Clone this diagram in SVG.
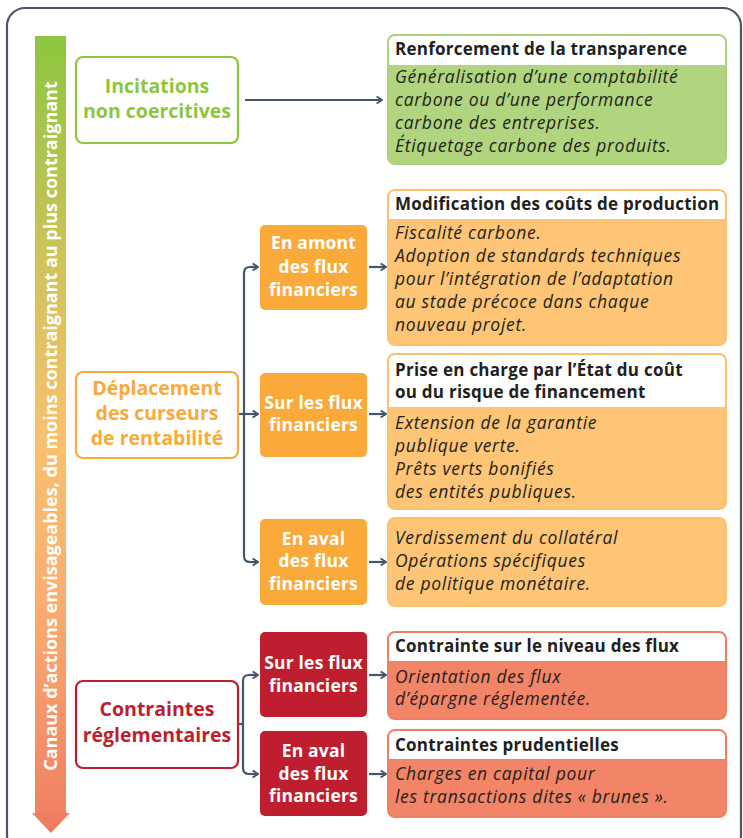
<svg xmlns="http://www.w3.org/2000/svg" width="743" height="838" viewBox="0 0 743 838">
<style>
.frame{fill:none;stroke:#4a5568;stroke-width:2.2}
.conn{fill:none;stroke:#46556b;stroke-width:2.2}
.big{font-family:"Open Sans","Noto Sans",sans-serif;font-weight:700;font-size:19.5px;text-anchor:middle}
.small{font-family:"Open Sans","Noto Sans",sans-serif;font-weight:700;font-size:17.5px;letter-spacing:0.2px;text-anchor:middle;fill:#fff}
.hdr{font-family:"Open Sans","Noto Sans",sans-serif;font-weight:700;font-size:17px;letter-spacing:0.25px;fill:#231f20}
.body{font-family:"Open Sans","Noto Sans",sans-serif;font-style:italic;font-size:17.5px;letter-spacing:0.7px;fill:#231f20}
.vert{font-family:"Open Sans","Noto Sans",sans-serif;font-weight:700;font-size:18px;fill:#fff;text-anchor:middle}
</style>
<defs>
<linearGradient id="grad" x1="0" y1="36" x2="0" y2="832" gradientUnits="userSpaceOnUse">
<stop offset="0" stop-color="#8cc63f"/>
<stop offset="0.3" stop-color="#d2c35c"/>
<stop offset="0.5" stop-color="#f8c16c"/>
<stop offset="0.7" stop-color="#fcae70"/>
<stop offset="1" stop-color="#f07d62"/>
</linearGradient>
<marker id="arr" viewBox="0 0 10 10" refX="9" refY="5" markerWidth="9" markerHeight="9" markerUnits="userSpaceOnUse" orient="auto">
<path d="M3,1 L9,5 L3,9" fill="none" stroke="#46556b" stroke-width="2"/>
</marker>
</defs>
<rect class="frame" x="7" y="8" width="734" height="845" rx="18"/>
<g id="axis">
<rect x="35" y="36" width="31" height="778" fill="url(#grad)"/>
<polygon points="32,813 70,813 51,833" fill="#f07d62"/>
<text class="vert" transform="translate(57,426) rotate(-90)">Canaux d’actions envisageables, du moins contraignant au plus contraignant</text>
</g>
<g id="connectors">
<line class="conn" x1="245" y1="100" x2="382" y2="100" marker-end="url(#arr)"/>
<path class="conn" d="M238,414 H244"/>
<path class="conn" d="M257,267 H250 Q244,267 244,273 V556 Q244,562 250,562 H258"/>
<path class="conn" d="M250,562 H258" marker-end="url(#arr)"/>
<path class="conn" d="M244,414 H258" marker-end="url(#arr)"/>
<path class="conn" d="M250,267 H258" marker-end="url(#arr)"/>
<line class="conn" x1="369" y1="267" x2="386" y2="267" marker-end="url(#arr)"/>
<line class="conn" x1="369" y1="414" x2="386" y2="414" marker-end="url(#arr)"/>
<line class="conn" x1="369" y1="562" x2="386" y2="562" marker-end="url(#arr)"/>
<path class="conn" d="M238,724 H243"/>
<path class="conn" d="M258,675 H249 Q243,675 243,681 V768 Q243,774 249,774 H258"/>
<path class="conn" d="M249,675 H258" marker-end="url(#arr)"/>
<path class="conn" d="M249,774 H258" marker-end="url(#arr)"/>
<line class="conn" x1="369" y1="675" x2="386" y2="675" marker-end="url(#arr)"/>
<line class="conn" x1="369" y1="774" x2="386" y2="774" marker-end="url(#arr)"/>
</g>
<g id="incitations">
<rect x="76" y="57" width="162" height="86" rx="7" fill="#fff" stroke="#8cc63f" stroke-width="2.2"/>
<text class="big" fill="#8cc63f"><tspan x="157" y="93">Incitations</tspan><tspan x="157" y="118">non coercitives</tspan></text>
</g>
<g id="deplacement">
<rect x="76" y="372" width="162" height="86" rx="7" fill="#fff" stroke="#f9aa3b" stroke-width="2.2"/>
<text class="big" fill="#f9aa3b"><tspan x="157" y="395">Déplacement</tspan><tspan x="157" y="420">des curseurs</tspan><tspan x="157" y="445">de rentabilité</tspan></text>
</g>
<g id="contraintes">
<rect x="76" y="681" width="162" height="87" rx="7" fill="#fff" stroke="#be1e2d" stroke-width="2.2"/>
<text class="big" fill="#be1e2d"><tspan x="157" y="716">Contraintes</tspan><tspan x="157" y="742">réglementaires</tspan></text>
</g>
<g id="amont">
<rect x="260" y="225" width="107" height="85" rx="5" fill="#f9aa3b"/>
<text class="small"><tspan x="313.5" y="249">En amont</tspan><tspan x="313.5" y="273">des flux</tspan><tspan x="313.5" y="296">financiers</tspan></text>
</g>
<g id="sur-orange">
<rect x="260" y="373" width="107" height="84" rx="5" fill="#f9aa3b"/>
<text class="small"><tspan x="313.5" y="409">Sur les flux</tspan><tspan x="313.5" y="431">financiers</tspan></text>
</g>
<g id="aval-orange">
<rect x="260" y="519" width="107" height="86" rx="5" fill="#f9aa3b"/>
<text class="small"><tspan x="313.5" y="545">En aval</tspan><tspan x="313.5" y="567">des flux</tspan><tspan x="313.5" y="590">financiers</tspan></text>
</g>
<g id="sur-red">
<rect x="260" y="632" width="107" height="85" rx="5" fill="#be1e2d"/>
<text class="small"><tspan x="313.5" y="669">Sur les flux</tspan><tspan x="313.5" y="692">financiers</tspan></text>
</g>
<g id="aval-red">
<rect x="260" y="731" width="107" height="85" rx="5" fill="#be1e2d"/>
<text class="small"><tspan x="313.5" y="757">En aval</tspan><tspan x="313.5" y="780">des flux</tspan><tspan x="313.5" y="802">financiers</tspan></text>
</g>
<g id="transparence">
<rect x="388" y="35" width="338" height="129" rx="7" fill="#b1d57f"/>
<path d="M388,65 V42 A7,7 0 0 1 395,35 H719 A7,7 0 0 1 726,42 V65 Z" fill="#fff"/>
<rect x="388" y="35" width="338" height="129" rx="7" fill="none" stroke="#aad27a" stroke-width="2"/>
<text class="hdr" x="395" y="55">Renforcement de la transparence</text>
<text class="body"><tspan x="395" y="83">Généralisation d’une comptabilité</tspan><tspan x="395" y="106">carbone ou d’une performance</tspan><tspan x="395" y="129">carbone des entreprises.</tspan><tspan x="395" y="152">Étiquetage carbone des produits.</tspan></text>
</g>
<g id="couts">
<rect x="388" y="190" width="338" height="155" rx="7" fill="#fdc575"/>
<path d="M388,219 V197 A7,7 0 0 1 395,190 H719 A7,7 0 0 1 726,197 V219 Z" fill="#fff"/>
<rect x="388" y="190" width="338" height="155" rx="7" fill="none" stroke="#fdc06c" stroke-width="2"/>
<text class="hdr" x="395" y="210">Modification des coûts de production</text>
<text class="body"><tspan x="395" y="239">Fiscalité carbone.</tspan><tspan x="395" y="262">Adoption de standards techniques</tspan><tspan x="395" y="285">pour l’intégration de l’adaptation</tspan><tspan x="395" y="308">au stade précoce dans chaque</tspan><tspan x="395" y="331">nouveau projet.</tspan></text>
</g>
<g id="etat">
<rect x="388" y="354" width="338" height="155" rx="7" fill="#fdc575"/>
<path d="M388,407 V361 A7,7 0 0 1 395,354 H719 A7,7 0 0 1 726,361 V407 Z" fill="#fff"/>
<rect x="388" y="354" width="338" height="155" rx="7" fill="none" stroke="#fdc06c" stroke-width="2"/>
<text class="hdr"><tspan x="395" y="376">Prise en charge par l’État du coût</tspan><tspan x="395" y="398">ou du risque de financement</tspan></text>
<text class="body"><tspan x="395" y="429">Extension de la garantie</tspan><tspan x="395" y="452">publique verte.</tspan><tspan x="395" y="475">Prêts verts bonifiés</tspan><tspan x="395" y="498">des entités publiques.</tspan></text>
</g>
<g id="collateral">
<rect x="388" y="518" width="338" height="88" rx="7" fill="#fdc575" stroke="#fdc06c" stroke-width="2"/>
<text class="body"><tspan x="395" y="544">Verdissement du collatéral</tspan><tspan x="395" y="567">Opérations spécifiques</tspan><tspan x="395" y="590">de politique monétaire.</tspan></text>
</g>
<g id="niveau">
<rect x="388" y="632" width="338" height="87" rx="7" fill="#f28467"/>
<path d="M388,661 V639 A7,7 0 0 1 395,632 H719 A7,7 0 0 1 726,639 V661 Z" fill="#fff"/>
<rect x="388" y="632" width="338" height="87" rx="7" fill="none" stroke="#f07e62" stroke-width="2"/>
<text class="hdr" x="395" y="652">Contrainte sur le niveau des flux</text>
<text class="body"><tspan x="395" y="683">Orientation des flux</tspan><tspan x="395" y="705">d’épargne réglementée.</tspan></text>
</g>
<g id="prudentielles">
<rect x="388" y="730" width="338" height="87" rx="7" fill="#f28467"/>
<path d="M388,759 V737 A7,7 0 0 1 395,730 H719 A7,7 0 0 1 726,737 V759 Z" fill="#fff"/>
<rect x="388" y="730" width="338" height="87" rx="7" fill="none" stroke="#f07e62" stroke-width="2"/>
<text class="hdr" x="395" y="751">Contraintes prudentielles</text>
<text class="body"><tspan x="395" y="780">Charges en capital pour</tspan><tspan x="395" y="803">les transactions dites « brunes ».</tspan></text>
</g>
</svg>
